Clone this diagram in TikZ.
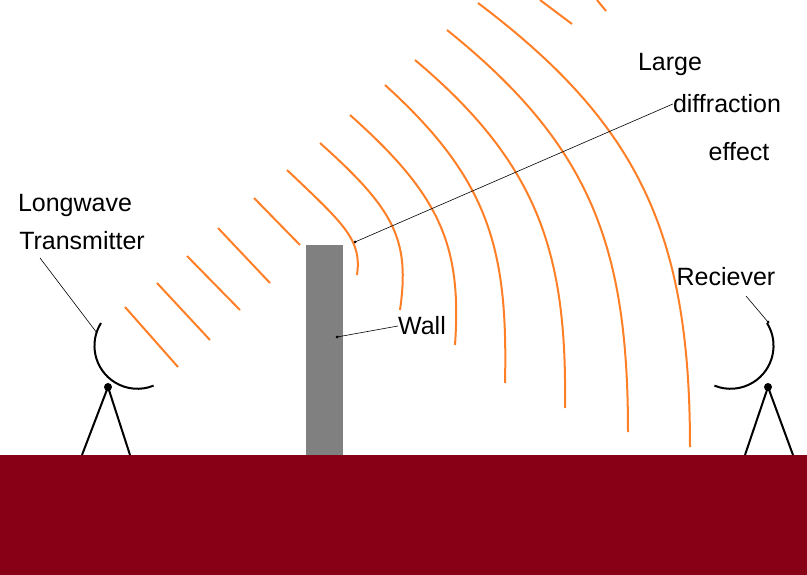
\documentclass[tikz,border=0pt]{standalone}
\usepackage{fontspec}
\setmainfont{Liberation Sans}
\begin{document}
\begin{tikzpicture}[x=1pt,y=-1pt]
\tikzset{wave/.style={draw={rgb,255:red,255;green,127;blue,39}, line width=2pt},
  lbl/.style={font=\fontsize{25}{29}\selectfont, inner sep=0pt},
  pointer/.style={draw=black, line width=0.6pt},
  stand/.style={draw=black, line width=2pt}}
\useasboundingbox (0,0) rectangle (807,575);
% ground and wall
\fill[fill={rgb,255:red,135;green,0;blue,22}] (0,455) rectangle (807,575);
\fill[gray] (306,245) rectangle (343,455);
% straight wavefronts
\foreach \xa/\ya/\xb/\yb in {125/307/178/367, 157/283/210/340, 187/256/240/310, 218/228/270/283, 254/198/300/245}
  \draw[wave] (\xa,\ya) -- (\xb,\yb);
% bent wavefronts
\draw[wave] (287,170) .. controls (345,225) and (362,240) .. (357,275);
\draw[wave] (320,143) .. controls (395,210) and (410,240) .. (400,310);
\draw[wave] (350,115) .. controls (440,195) and (462,245) .. (455,345);
\draw[wave] (385,85) .. controls (490,180) and (508,250) .. (505,383);
\draw[wave] (415,60) .. controls (540,165) and (567,255) .. (565,408);
\draw[wave] (447,30) .. controls (590,145) and (628,245) .. (628,432);
\draw[wave] (478,3) .. controls (640,125) and (690,235) .. (690,447);
\draw[wave] (540,0) -- (572,24);
\draw[wave] (597,0) -- (606,11);
% transmitter
\draw[stand] (101,323) arc[start angle=212, end angle=68, radius=43];
\fill (108,387) circle (4);
\draw[stand] (108,387) -- (82,455);
\draw[stand] (108,387) -- (130,455);
% receiver
\draw[stand] (767,323) arc[start angle=-32, end angle=112, radius=43];
\fill (768,387) circle (4);
\draw[stand] (768,387) -- (745,455);
\draw[stand] (768,387) -- (793,455);
% labels
\node[lbl] (long) at (75,205) {Longwave};
\node[lbl] (trans) at (82,241) {Transmitter};
\node[lbl] (wall) at (422,326) {Wall};
\node[lbl] (large) at (670,64) {Large};
\node[lbl] (diff) at (727,104) {diffraction};
\node[lbl] (eff) at (739,152) {effect};
\node[lbl] (rec) at (726,277) {Reciever};
\coordinate (tx) at (97,333);
\coordinate (rx) at (768,322);
\coordinate (wallpt) at (337,337);
\coordinate (edge) at (355,242);
\draw[pointer] (tx) -- (40,258);
\draw[pointer] (rx) -- (746,296);
\draw[pointer] (wallpt) -- (wall.west);
\draw[pointer] (edge) -- (diff.west);
\fill (wallpt) circle (1.5);
\fill (edge) circle (1.5);
\fill (rx) circle (1.5);
\end{tikzpicture}
\end{document}
